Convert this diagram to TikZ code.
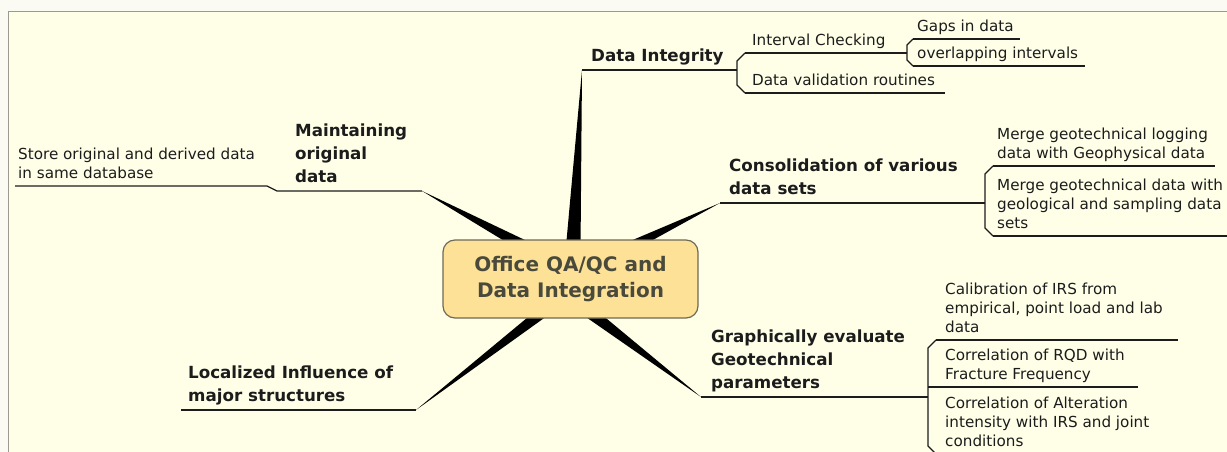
\documentclass[tikz,border=0pt]{standalone}
\usepackage{fontspec}
\setmainfont{DejaVu Sans}
\usetikzlibrary{calc}
\definecolor{bgin}{HTML}{FFFFE8}
\definecolor{bgout}{HTML}{FBFBF4}
\definecolor{framec}{HTML}{9A9A90}
\definecolor{boxfill}{HTML}{FDE197}
\definecolor{boxline}{HTML}{6E6A58}
\definecolor{boxtext}{HTML}{4A4A3C}
\definecolor{ink}{HTML}{1C1C1C}
\newcommand\branchwedge[3]{\fill[wedgefill] (#1) -- ($(#2)!#3!90:(#1)$) -- ($(#2)!#3!-90:(#1)$) -- cycle;}
\begin{document}
\begin{tikzpicture}[x=1pt,y=-1pt,
  topic/.style={anchor=south west, align=left, inner xsep=0pt, inner ysep=1.1pt,
    font=\fontsize{16.7}{23}\selectfont\bfseries, text=ink, execute at end node=\strut},
  sub/.style={anchor=south west, align=left, inner xsep=0pt, inner ysep=1.3pt,
    font=\fontsize{15.2}{19}\selectfont, text=ink, execute at end node=\strut},
  uline/.style={draw=ink, line width=1.3pt, line join=round},
  wedgefill/.style={fill=black},
  central/.style={draw=boxline, line width=1.2pt, fill=boxfill, rounded corners=12pt,
    minimum width=255pt, minimum height=78pt, align=center,
    font=\fontsize{20}{26}\selectfont\bfseries, text=boxtext}]
\useasboundingbox (0,0) rectangle (1227,452);
\fill[bgout] (0,0) rectangle (1227,452);
\fill[bgin] (8,12) rectangle (1227,452);
\draw[framec, line width=1pt] (8,452) -- (8,12) -- (1227,12);

% wedge tips and bases
\coordinate (tDI) at (582,70);  \coordinate (bDI) at (573,252);
\coordinate (tMO) at (422,191); \coordinate (bMO) at (535,252);
\coordinate (tCO) at (720,203); \coordinate (bCO) at (615,254);
\coordinate (tGR) at (701,397); \coordinate (bGR) at (580,305);
\coordinate (tLO) at (416,410); \coordinate (bLO) at (552,305);

\branchwedge{tDI}{bDI}{7.5pt}
\branchwedge{tMO}{bMO}{6.5pt}
\branchwedge{tCO}{bCO}{6pt}
\branchwedge{tGR}{bGR}{6.5pt}
\branchwedge{tLO}{bLO}{6pt}

\node[central] (c) at (570.5,279) {Office QA/QC and\\Data Integration};

% Data Integrity
\coordinate (eDI) at (737,70);
\coordinate (sIC) at (745,53);
\coordinate (eIC) at (907,53);
\coordinate (sDV) at (745,93);
\coordinate (sGD) at (913,39);
\coordinate (sOI) at (913,66);
\draw[uline] (tDI) -- (eDI);
\draw[uline] (sIC) -- (737,61) -- (737,85) -- (sDV);
\draw[uline] (sIC) -- (eIC);
\draw[uline] (sGD) -- (907,45) -- (907,60) -- (sOI);
\draw[uline] (sGD) -- (1020,39);
\draw[uline] (sOI) -- (1085,66);
\draw[uline] (sDV) -- (945,93);
\node[topic] (di) at (591,70) {Data Integrity};
\node[sub] (ic) at (752,53) {Interval Checking};
\node[sub] (gd) at (917,39) {Gaps in data};
\node[sub] (oi) at (917,66) {overlapping intervals};
\node[sub] (dv) at (752,93) {Data validation routines};

% Maintaining original data
\draw[uline] (tMO) -- (277,191) -- (267,186) -- (15,186);
\node[topic] (mo) at (295,191) {Maintaining\\original\\data};
\node[sub] (so) at (18,186) {Store original and derived data\\in same database};

% Consolidation
\coordinate (eCO) at (985,203);
\coordinate (sM1) at (993,166);
\coordinate (sM2) at (993,236);
\draw[uline] (tCO) -- (eCO);
\draw[uline] (sM1) -- (985,174) -- (985,228) -- (sM2);
\draw[uline] (sM1) -- (1215,166);
\draw[uline] (sM2) -- (1227,236);
\node[topic] (co) at (729,203) {Consolidation of various\\data sets};
\node[sub] (m1) at (997,166) {Merge geotechnical logging\\data with Geophysical data};
\node[sub] (m2) at (997,236) {Merge geotechnical data with\\geological and sampling data\\sets};

% Graphically evaluate
\coordinate (eGR) at (928,397);
\coordinate (sCA) at (936,340);
\coordinate (sRQ) at (928,387);
\coordinate (sAL) at (936,454);
\draw[uline] (tGR) -- (eGR);
\draw[uline] (sCA) -- (928,348) -- (928,446) -- (sAL);
\draw[uline] (sCA) -- (1178,340);
\draw[uline] (sRQ) -- (1138,387);
\node[topic] (gr) at (711,397) {Graphically evaluate\\Geotechnical\\parameters};
\node[sub] (ca) at (945,340) {Calibration of IRS from\\empirical, point load and lab\\data};
\node[sub] (rq) at (945,387) {Correlation of RQD with\\Fracture Frequency};
\node[sub] (al) at (945,454) {Correlation of Alteration\\intensity with IRS and joint\\conditions};

% Localized influence
\draw[uline] (tLO) -- (181,410);
\node[topic] (lo) at (188,410) {Localized Influence of\\major structures};
\end{tikzpicture}
\end{document}
